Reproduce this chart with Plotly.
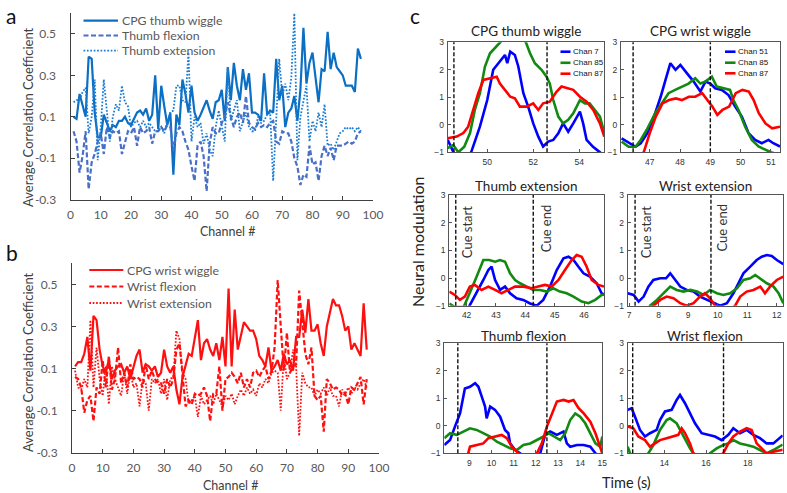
import plotly.graph_objects as go

W, H = 787, 493

# ---------------- Panel a / b data ----------------
channels = list(range(1, 97))

thumb_cpg = [0.10, 0.09, 0.21, 0.15, 0.10, 0.39, 0.38, 0.12, 0.00, 0.00,
             0.11, 0.07, 0.03, 0.06, 0.05, 0.08, 0.08, 0.10, 0.07, 0.06,
             0.09, 0.12, 0.13, 0.11, 0.14, 0.08, 0.11, 0.30, 0.04, 0.25,
             0.15, 0.06, 0.12, -0.18, 0.11, 0.06, 0.28, 0.21, 0.12, 0.25,
             0.12, 0.08, 0.11, 0.15, 0.18, 0.13, 0.09, 0.17, 0.18, 0.23,
             0.08, 0.34, 0.18, 0.36, 0.25, 0.18, 0.33, 0.23, 0.31, 0.12,
             0.12, 0.11, 0.08, 0.31, 0.11, 0.13, 0.12, 0.38, 0.18, 0.25,
             0.05, 0.12, 0.14, 0.20, 0.08, 0.23, 0.53, 0.26, 0.36, 0.41,
             0.29, 0.17, 0.33, 0.32, 0.51, 0.33, 0.41, 0.34, 0.32, 0.30,
             0.25, 0.25, 0.25, 0.22, 0.43, 0.38]
thumb_flex = [0.03, -0.02, -0.17, -0.09, 0.03, -0.25, -0.12, -0.08, -0.02, 0.02,
              -0.08, 0.05, 0.00, 0.03, 0.02, 0.03, -0.08, -0.03, 0.03, 0.02,
              0.05, -0.04, 0.05, 0.02, 0.03, 0.05, -0.03, 0.03, 0.03, 0.05,
              0.03, 0.06, 0.05, -0.06, 0.02, 0.05, 0.03, -0.02, -0.06, -0.14,
              -0.21, -0.04, -0.02, -0.09, -0.26, -0.03, 0.05, 0.02, 0.02, 0.07,
              0.10, 0.17, 0.10, 0.05, 0.10, 0.12, 0.07, 0.20, 0.07, 0.05,
              0.04, 0.07, 0.05, 0.06, 0.05, 0.07, 0.08, -0.02, -0.03, 0.03,
              0.02, 0.02, -0.02, -0.10, -0.14, -0.23, -0.18, -0.19, -0.04, -0.13,
              -0.12, -0.21, -0.09, -0.04, -0.09, -0.05, -0.11, -0.04, -0.04, -0.04,
              -0.03, -0.02, -0.03, -0.02, 0.02, 0.03]
thumb_ext = [0.17, 0.18, 0.18, 0.22, 0.24, 0.02, 0.10, 0.28, -0.11, 0.05,
             0.28, 0.13, -0.02, 0.10, 0.16, 0.13, 0.25, 0.17, 0.15, 0.05,
             0.07, 0.08, 0.05, 0.08, 0.05, 0.07, 0.05, 0.03, 0.03, 0.05,
             0.02, 0.08, 0.12, 0.13, 0.25, 0.25, 0.18, 0.17, 0.41, -0.02,
             0.10, 0.05, 0.07, -0.03, 0.02, -0.06, -0.09, 0.05, 0.13, 0.05,
             -0.02, 0.34, 0.08, 0.13, 0.18, 0.03, 0.07, 0.12, 0.05, 0.03,
             0.03, 0.10, 0.07, 0.08, 0.11, 0.12, -0.21, 0.07, 0.38, 0.20,
             0.26, 0.18, 0.29, 0.60, -0.11, 0.10, 0.18, 0.25, -0.02, 0.08,
             0.03, 0.12, 0.05, 0.16, -0.04, -0.03, -0.06, -0.02, 0.02, 0.03,
             0.05, 0.04, 0.05, 0.03, 0.05, 0.03]

wrist_cpg = [0.11, 0.13, 0.13, 0.17, 0.25, 0.09, 0.35, 0.33, 0.19, 0.11,
             0.08, 0.14, 0.05, 0.09, 0.11, 0.12, 0.08, 0.11, 0.05, 0.11,
             0.16, 0.19, 0.08, 0.12, 0.11, 0.09, 0.11, 0.06, 0.08, 0.19,
             0.11, 0.08, 0.11, 0.00, -0.07, 0.06, 0.11, 0.17, 0.16, 0.24,
             0.33, 0.14, 0.22, 0.24, 0.19, 0.16, 0.22, 0.14, 0.25, 0.11,
             0.48, 0.11, 0.38, 0.19, 0.25, 0.32, 0.30, 0.28, 0.28, 0.24,
             0.16, 0.14, 0.11, 0.20, 0.09, 0.11, 0.14, 0.09, 0.17, 0.12,
             0.14, 0.09, 0.25, 0.25, 0.38, 0.27, 0.43, 0.28, 0.28, 0.31,
             0.22, 0.16, 0.30, 0.36, 0.43, 0.40, 0.40, 0.35, 0.28, 0.30,
             0.19, 0.22, 0.19, 0.16, 0.41, 0.19]
wrist_flex = [0.06, 0.05, 0.01, -0.11, -0.05, -0.03, -0.15, 0.01, -0.02, 0.14,
              0.01, 0.16, 0.00, 0.05, 0.20, 0.03, 0.08, 0.01, 0.12, 0.05,
              0.06, 0.05, 0.01, 0.12, 0.05, 0.09, 0.05, 0.03, 0.03, -0.02,
              0.05, 0.01, 0.05, 0.19, 0.22, 0.05, -0.08, -0.05, -0.07, -0.02,
              -0.03, -0.02, 0.01, -0.03, -0.15, -0.02, -0.02, 0.11, -0.10, 0.05,
              0.06, 0.08, 0.06, 0.03, 0.08, 0.01, 0.05, 0.01, 0.08, 0.09,
              0.06, 0.09, 0.11, 0.05, 0.09, 0.20, 0.52, 0.30, 0.09, 0.27,
              0.08, 0.11, 0.12, 0.47, 0.33, 0.17, 0.12, 0.20, -0.03, -0.05,
              -0.03, -0.20, 0.05, 0.03, 0.00, 0.01, 0.00, -0.03, -0.02, -0.07,
              0.01, 0.00, 0.03, 0.06, -0.07, 0.05]
wrist_ext = [0.09, 0.01, 0.00, 0.05, 0.01, 0.33, 0.01, 0.20, 0.05, -0.03,
             0.11, -0.07, 0.11, 0.05, 0.01, -0.03, 0.08, -0.02, 0.09, 0.01,
             0.03, -0.08, 0.05, 0.03, -0.10, 0.05, 0.03, 0.05, -0.02, 0.05,
             -0.05, 0.05, 0.06, 0.28, 0.24, 0.08, 0.05, -0.07, -0.05, -0.03,
             -0.13, -0.03, -0.07, -0.05, -0.03, -0.07, -0.02, -0.05, -0.08, -0.03,
             -0.05, -0.02, -0.07, -0.03, 0.00, -0.03, 0.01, -0.02, 0.00, -0.03,
             0.03, 0.01, 0.05, 0.03, 0.08, 0.09, 0.08, -0.10, 0.16, 0.05,
             0.08, 0.19, 0.11, -0.22, 0.08, 0.03, 0.01, 0.01, -0.03, 0.00,
             -0.02, 0.01, -0.03, 0.01, -0.03, -0.03, -0.08, 0.00, -0.02, 0.01,
             -0.02, 0.01, 0.00, 0.03, 0.05, 0.01]

names_a = ["CPG thumb wiggle", "Thumb flexion", "Thumb extension"]
names_b = ["CPG wrist wiggle", "Wrist flexion", "Wrist extension"]
corr_ticks = [-0.3, -0.1, 0.1, 0.3, 0.5]
corr_ticktext = ["-0.3", "-0.1", "0.1", "0.3", "0.5"]
chan_ticks = [0, 10, 20, 30, 40, 50, 60, 70, 80, 90, 100]

# ---------------- Panel c data ----------------
# CPG thumb wiggle
tw_t7 = [48.28, 48.45, 48.7, 49.0, 49.3, 49.68, 50.0, 50.26, 50.55, 50.77, 50.87, 51.0, 51.2, 51.35, 51.57, 51.78,
         52.0, 52.22, 52.43, 52.65, 52.87, 53.09, 53.3, 53.52, 53.74, 54.03, 54.17, 54.32, 54.6, 54.9, 55.1]
tw_c7 = [-0.55, -0.9, -1.3, -1.4, -1.0, -0.07, 0.9, 2.0, 2.3, 2.54, 2.24, 2.66, 2.54, 2.12, 1.15, 0.66,
         0.05, -0.43, -0.79, -0.61, -0.55, -0.31, 0.05, -0.25, 0.05, 0.48, 0.05, -0.55, -0.8, -1.0, -1.2]
tw_t85 = [48.28, 48.52, 48.74, 49.0, 49.25, 49.46, 49.68, 49.9, 50.12, 50.41, 50.62, 50.9, 51.3, 51.68, 51.86,
          52.07, 52.36, 52.58, 52.72, 52.87, 53.09, 53.3, 53.52, 53.74, 54.03, 54.25, 54.45, 54.68, 54.9, 55.09]
tw_c85 = [-0.85, -0.73, -1.0, -0.8, -0.3, 0.54, 1.15, 2.12, 2.6, 2.84, 3.05, 3.4, 3.4, 3.0, 2.6,
          2.24, 2.0, 1.75, 1.5, 0.9, 0.3, 0.05, 0.18, 0.42, 0.9, 0.78, 0.78, 0.54, 0.3, -0.3]
tw_t87 = [48.28, 48.67, 48.96, 49.17, 49.39, 49.61, 49.83, 50.12, 50.41, 50.55, 50.77, 51.0, 51.2, 51.42,
          51.71, 52.0, 52.22, 52.43, 52.72, 53.01, 53.23, 53.45, 53.74, 54.03, 54.32, 54.61, 54.9, 55.09]
tw_c87 = [-0.49, -0.43, -0.3, -0.07, 0.54, 1.15, 1.63, 1.7, 1.75, 1.5, 1.27, 1.02, 0.96, 0.66,
          0.66, 0.78, 0.54, 0.78, 0.84, 1.2, 1.39, 1.33, 1.27, 1.02, 0.84, 0.54, 0.05, -0.43]

# CPG wrist wiggle
ww_t51 = [46.07, 46.36, 46.53, 46.7, 46.92, 47.14, 47.36, 47.52, 47.68, 47.85, 48.01, 48.23, 48.45, 48.67,
          48.84, 49.0, 49.16, 49.38, 49.6, 49.82, 50.04, 50.26, 50.48, 50.7, 50.92, 51.08, 51.3]
ww_c51 = [-0.49, -0.67, -0.8, -0.67, -0.3, 0.3, 1.02, 1.63, 2.24, 2.0, 2.18, 1.87, 1.57, 1.21,
          1.57, 1.5, 1.33, 1.27, 1.08, 0.66, 0.3, -0.3, -0.55, -0.67, -0.55, -0.67, -0.79]
ww_t85 = [46.07, 46.3, 46.53, 46.7, 46.9, 47.18, 47.4, 47.62, 47.84, 48.06, 48.28, 48.5, 48.67, 48.83,
          49.05, 49.21, 49.43, 49.65, 49.76, 49.93, 50.15, 50.37, 50.59, 50.81, 51.0, 51.3]
ww_c85 = [-0.61, -0.8, -0.8, -0.55, -0.18, 0.42, 0.78, 1.15, 1.27, 1.39, 1.5, 1.69, 1.5, 1.57,
          1.75, 1.39, 1.33, 1.27, 0.9, 0.54, -0.07, -0.55, -0.79, -0.91, -1.0, -1.1]
ww_t87 = [46.7, 46.8, 47.0, 47.2, 47.42, 47.64, 47.86, 48.06, 48.29, 48.5, 48.73, 48.9, 49.07, 49.23, 49.4,
          49.62, 49.84, 50.06, 50.27, 50.43, 50.6, 50.82, 51.04, 51.3]
ww_c87 = [-1.3, -1.0, -0.3, 0.3, 0.78, 0.9, 0.96, 0.9, 1.02, 1.02, 1.15, 0.9, 0.66, 0.36, 0.54,
          0.66, 1.15, 1.27, 1.21, 0.9, 0.42, 0.05, -0.13, -0.07]

# Thumb extension
te_tb = [41.41, 42.0, 42.1, 42.34, 42.57, 42.74, 42.85, 42.97, 43.14, 43.31, 43.48, 43.7, 43.93, 44.16, 44.39,
         44.61, 44.84, 45.07, 45.3, 45.47, 45.64, 45.81, 45.98, 46.2, 46.43, 46.6, 46.68]
te_b = [-1.3, -1.2, -1.0, -0.55, -0.07, 0.29, 0.41, -0.07, -0.43, -0.31, -0.55, -0.73, -0.79, -0.92, -1.0,
        -0.79, -0.31, 0.29, 0.71, 0.77, 0.65, 0.41, 0.17, 0.05, -0.19, -0.55, -0.6]
te_tg = [41.41, 41.6, 41.9, 42.11, 42.34, 42.57, 42.77, 42.97, 43.14, 43.31, 43.48, 43.65, 43.82, 44.05, 44.27,
         44.5, 44.73, 44.95, 45.18, 45.41, 45.64, 45.92, 46.15, 46.38, 46.6, 46.68]
te_g = [-0.92, -1.05, -1.05, -0.55, 0.05, 0.65, 0.65, 0.59, 0.65, 0.59, 0.17, -0.07, -0.19, -0.31, -0.43,
        -0.43, -0.49, -0.37, -0.49, -0.55, -0.67, -0.85, -0.91, -0.79, -0.61, -0.6]
te_tr = [41.41, 41.6, 41.77, 41.94, 42.11, 42.28, 42.51, 42.74, 42.97, 43.19, 43.42, 43.65, 43.93, 44.22, 44.44,
         44.67, 44.9, 45.13, 45.35, 45.58, 45.75, 45.92, 46.09, 46.26, 46.49, 46.68]
te_r = [-0.49, -0.61, -0.79, -0.67, -0.31, -0.25, -0.43, -0.31, -0.43, -0.55, -0.43, -0.31, -0.31, -0.37, -0.31,
        -0.25, -0.31, -0.07, 0.29, 0.65, 0.83, 0.77, 0.41, -0.07, -0.25, -0.31]

# Wrist extension
we_tb = [6.95, 7.15, 7.32, 7.49, 7.65, 7.82, 8.05, 8.25, 8.39, 8.56, 8.73, 8.95, 9.18, 9.4, 9.63, 9.86, 10.08,
         10.31, 10.53, 10.7, 10.87, 11.1, 11.32, 11.49, 11.66, 11.83, 12.0, 12.22]
we_b = [-0.55, -0.61, -0.85, -0.67, -0.31, -0.07, -0.01, -0.01, 0.17, -0.07, -0.31, -0.43, -0.49, -0.67, -0.79,
        -0.91, -1.0, -0.91, -0.55, -0.19, 0.17, 0.41, 0.65, 0.77, 0.83, 0.8, 0.65, 0.5]
we_tg = [7.6, 7.71, 7.94, 8.16, 8.39, 8.61, 8.84, 9.07, 9.3, 9.52, 9.74, 9.97, 10.19, 10.42, 10.65, 10.87, 11.1,
         11.27, 11.44, 11.66, 11.89, 12.06, 12.22]
we_g = [-1.2, -1.0, -0.79, -0.55, -0.31, -0.43, -0.49, -0.43, -0.49, -0.61, -0.43, -0.55, -0.61, -0.55, -0.37,
        -0.07, -0.01, 0.11, -0.01, -0.19, -0.31, -0.55, -0.91]
we_tr = [7.7, 7.82, 8.05, 8.27, 8.5, 8.73, 8.95, 9.18, 9.4, 9.57, 9.74, 9.91, 10.2, 10.59, 10.76, 10.98, 11.21,
         11.44, 11.6, 11.77, 12.0, 12.22]
we_r = [-1.2, -1.0, -0.79, -0.67, -0.73, -0.91, -1.0, -0.91, -0.67, -0.55, -0.73, -1.0, -1.3, -1.0, -0.67,
        -0.49, -0.43, -0.31, -0.55, -0.31, -0.07, 0.05]

# Thumb flexion
tf_tb = [7.87, 8.13, 8.35, 8.58, 8.8, 9.03, 9.26, 9.41, 9.56, 9.71, 9.78, 9.94, 10.16, 10.39, 10.61, 10.76, 10.84,
         11.07, 11.29, 11.8, 12.2, 12.42, 12.65, 12.95, 13.25, 13.4, 13.55, 13.86, 14.16, 14.46, 14.69, 15.0]
tf_b = [-0.7, -0.52, -0.03, 0.45, 1.36, 1.42, 1.55, 1.42, 1.06, 0.7, 0.27, 0.7, 0.58, 0.33, -0.15, -0.27, -0.64,
        -0.88, -1.0, -1.3, -1.0, -0.33, -0.21, -0.33, -0.21, -0.64, -0.76, -0.7, -0.7, -0.76, -1.0, -1.2]
tf_tg = [7.87, 8.13, 8.43, 8.73, 9.03, 9.33, 9.63, 9.94, 10.24, 10.54, 10.84, 11.14, 11.44, 11.75, 12.05, 12.35,
         12.57, 12.8, 13.1, 13.33, 13.55, 13.78, 14.0, 14.23, 14.46, 14.69, 14.91, 15.0]
tf_g = [-0.45, -0.27, -0.33, -0.21, -0.09, -0.15, -0.27, -0.39, -0.58, -0.7, -0.82, -0.88, -0.7, -0.64, -0.52,
        -0.39, -0.27, -0.39, -0.52, -0.27, 0.21, 0.45, 0.33, 0.09, -0.27, -0.64, -0.76, -0.39]
tf_tr = [8.9, 8.95, 9.03, 9.33, 9.63, 9.86, 10.16, 10.46, 10.69, 10.92, 11.14, 11.6, 12.05, 12.27, 12.5, 12.73,
         12.95, 13.25, 13.48, 13.7, 13.93, 14.16, 14.46, 14.69, 14.91, 15.0]
tf_r = [-1.3, -1.0, -0.76, -0.7, -0.64, -0.45, -0.39, -0.33, -0.45, -0.76, -0.94, -1.3, -1.0, -0.64, -0.03, 0.45,
        0.88, 0.94, 0.88, 0.94, 0.64, 0.45, 0.15, -0.27, -0.76, -1.0]

# Wrist flexion
wf_tb = [12.24, 12.43, 12.59, 12.83, 13.07, 13.31, 13.63, 13.79, 14.03, 14.35, 14.59, 14.75, 14.99, 15.23, 15.47,
         15.79, 16.11, 16.43, 16.75, 17.07, 17.31, 17.63, 17.95, 18.27, 18.59, 18.91, 19.23, 19.63, 19.68]
wf_b = [0.58, 0.64, 0.33, -0.15, -0.39, -0.27, -0.15, 0.21, 0.52, 0.58, 0.94, 1.12, 0.82, 0.45, 0.09,
        -0.27, -0.33, -0.39, -0.52, -0.33, -0.09, -0.27, -0.15, -0.33, -0.45, -0.64, -0.64, -0.39, -0.35]
wf_tg = [12.24, 12.35, 12.8, 13.23, 13.47, 13.79, 14.11, 14.27, 14.59, 14.91, 15.23, 15.39, 15.8, 16.19, 16.51,
         16.83, 17.07, 17.31, 17.63, 17.95, 18.27, 18.59, 18.91, 19.23, 19.63, 19.68]
wf_g = [-0.76, -1.0, -1.3, -1.0, -0.7, -0.15, 0.21, 0.27, 0.09, -0.39, -0.82, -1.0, -1.3, -1.0, -0.82,
        -0.7, -0.64, -0.52, -0.64, -0.7, -0.76, -0.88, -1.0, -0.88, -0.7, -0.68]
wf_tr = [12.24, 12.51, 12.75, 13.07, 13.31, 13.55, 13.79, 14.11, 14.43, 14.67, 14.83, 14.99, 15.23, 15.39, 16.1,
         16.83, 17.07, 17.31, 17.63, 17.95, 18.19, 18.43, 18.67, 18.91, 19.23, 19.63, 19.68]
wf_r = [-0.03, -0.09, -0.39, -0.52, -0.76, -0.64, -0.52, -0.45, -0.39, -0.33, -0.09, -0.27, -0.64, -1.0, -1.3,
        -1.0, -0.64, -0.39, -0.21, -0.09, -0.15, -0.64, -0.82, -1.0, -0.94, -0.88, -0.87]

# cue lines (start, end) for each panel c subplot
cue_tw = [48.55, 52.6]
cue_ww = [46.45, 49.0]
cue_te = [41.63, 44.27]
cue_we = [7.2, 9.77]
cue_tf = [8.48, 12.5]
cue_wf = [12.48, 16.84]

c_titles = ["CPG thumb wiggle", "CPG wrist wiggle", "Thumb extension",
            "Wrist extension", "Thumb flexion", "Wrist flexion"]
chan_names_tw = ["Chan 7", "Chan 85", "Chan 87"]
chan_names_ww = ["Chan 51", "Chan 85", "Chan 87"]
c_ranges = [[48.28, 55.09], [46.05, 51.3], [41.41, 46.68], [6.95, 12.22], [7.87, 15.0], [12.24, 19.68]]
c_xticks = [[50, 52, 54], [46, 47, 48, 49, 50, 51], [42, 43, 44, 45, 46],
            [7, 8, 9, 10, 11, 12], [9, 10, 11, 12, 13, 14, 15], [14, 16, 18]]
mod_ticks = [-1, 0, 1, 2, 3]

# ---------------- helpers / styles ----------------
def dx(p):
    return p / W

def dy(p):
    return 1 - p / H

CAL = "Lato, Carlito, Calibri, sans-serif"
ARIAL = "Liberation Sans, Arial, sans-serif"
styles_a = [dict(color="#0B6FC4", width=2.2),
            dict(color="#4A6FC6", width=2.2, dash="5px,2.5px"),
            dict(color="#1C7BD2", width=1.8, dash="1.7px,1.7px")]
styles_b = [dict(color="#FF1010", width=2.2),
            dict(color="#FF1010", width=2.2, dash="5px,2.5px"),
            dict(color="#FF1010", width=1.8, dash="1.7px,1.7px")]
CB, CG, CR = "#0000FF", "#128A12", "#FF0000"
c_colors = [CB, CG, CR]

fig = go.Figure()

for ys, nm, st in zip([thumb_cpg, thumb_flex, thumb_ext], names_a, styles_a):
    fig.add_trace(go.Scatter(x=channels, y=ys, mode="lines", name=nm, line=st,
                             xaxis="x", yaxis="y", showlegend=False))
for ys, nm, st in zip([wrist_cpg, wrist_flex, wrist_ext], names_b, styles_b):
    fig.add_trace(go.Scatter(x=channels, y=ys, mode="lines", name=nm, line=st,
                             xaxis="x2", yaxis="y2", showlegend=False))

c_series = [
    [(tw_t7, tw_c7), (tw_t85, tw_c85), (tw_t87, tw_c87)],
    [(ww_t51, ww_c51), (ww_t85, ww_c85), (ww_t87, ww_c87)],
    [(te_tb, te_b), (te_tg, te_g), (te_tr, te_r)],
    [(we_tb, we_b), (we_tg, we_g), (we_tr, we_r)],
    [(tf_tb, tf_b), (tf_tg, tf_g), (tf_tr, tf_r)],
    [(wf_tb, wf_b), (wf_tg, wf_g), (wf_tr, wf_r)],
]
c_names = [chan_names_tw, chan_names_ww] + [["blue", "green", "red"]] * 4
cues = [cue_tw, cue_ww, cue_te, cue_we, cue_tf, cue_wf]
for i, group in enumerate(c_series):
    k = i + 3
    for j, (tx, ty) in enumerate(group):
        fig.add_trace(go.Scatter(x=tx, y=ty, mode="lines", name=c_names[i][j], showlegend=False,
                                 line=dict(color=c_colors[j], width=2.6),
                                 xaxis=f"x{k}", yaxis=f"y{k}"))

# ---------------- layout ----------------
layout = dict(width=W, height=H, margin=dict(l=0, r=0, t=0, b=0, autoexpand=False),
              paper_bgcolor="white", plot_bgcolor="white", showlegend=False)

ab_axis = dict(showgrid=False, zeroline=False, showline=True, linecolor="#404040", linewidth=1,
               ticks="inside", ticklen=4, tickcolor="#404040", automargin=False,
               tickfont=dict(family=CAL, size=12, color="#595959"))
layout["xaxis"] = dict(ab_axis, domain=[dx(70.5), dx(373)], anchor="y", range=[0, 100],
                       tickvals=chan_ticks, ticklabelstandoff=4)
layout["yaxis"] = dict(ab_axis, domain=[dy(199.5), dy(13.3)], anchor="x", range=[-0.3, 0.6],
                       tickvals=corr_ticks, ticktext=corr_ticktext, ticklabelstandoff=11)
layout["xaxis2"] = dict(ab_axis, domain=[dx(72), dx(379)], anchor="y2", range=[0, 100],
                        tickvals=chan_ticks, ticklabelstandoff=4)
layout["yaxis2"] = dict(ab_axis, domain=[dy(452.7), dy(263.3)], anchor="x2", range=[-0.3, 0.6],
                        tickvals=corr_ticks, ticktext=corr_ticktext, ticklabelstandoff=11)

c_boxes = [(447.7, 604.3, 42.3, 152.3), (621, 780, 42.3, 152.3),
           (449.3, 604, 195, 305.7), (627.7, 783.3, 195, 305.7),
           (444.3, 602.3, 343.3, 453.3), (627.7, 782.7, 343.3, 453.3)]
title_y = [31, 31, 185.5, 185.5, 336, 336]
c_axis = dict(showgrid=False, zeroline=False, showline=True, mirror=True, linecolor="#555555",
              linewidth=1, ticks="inside", ticklen=3, tickcolor="#555555", automargin=False,
              tickfont=dict(family=ARIAL, size=8.5, color="#333333"))
shapes = []
annotations = []
for i, (x0, x1, y0, y1) in enumerate(c_boxes):
    k = i + 3
    layout[f"xaxis{k}"] = dict(c_axis, domain=[dx(x0), dx(x1)], anchor=f"y{k}", range=c_ranges[i],
                               tickvals=c_xticks[i], ticklabelstandoff=1)
    layout[f"yaxis{k}"] = dict(c_axis, domain=[dy(y1), dy(y0)], anchor=f"x{k}", range=[-1, 3],
                               tickvals=mod_ticks, ticklabelstandoff=1)
    for cx in cues[i]:
        shapes.append(dict(type="line", xref=f"x{k}", yref=f"y{k} domain", x0=cx, x1=cx, y0=0, y1=1,
                           line=dict(color="#111111", width=1.4, dash="4px,2px")))
    annotations.append(dict(text=c_titles[i], x=dx((x0 + x1) / 2), y=dy(title_y[i]), xref="paper",
                            yref="paper", showarrow=False, xanchor="center", yanchor="middle",
                            font=dict(family=CAL, size=13.5, color="#222222")))

# ---- legends (drawn as layout decorations) ----
def add_legend(names, styles, line_x0, line_x1, text_x, rows, font, box=None):
    if box is not None:
        bx0, bx1, by0, by1 = box
        shapes.append(dict(type="rect", xref="paper", yref="paper", x0=dx(bx0), x1=dx(bx1),
                           y0=dy(by1), y1=dy(by0), fillcolor="white", line=dict(width=0)))
    for nm, st, ry in zip(names, styles, rows):
        shapes.append(dict(type="line", xref="paper", yref="paper", x0=dx(line_x0), x1=dx(line_x1),
                           y0=dy(ry), y1=dy(ry), line=st))
        annotations.append(dict(text=nm, x=dx(text_x), y=dy(ry), xref="paper", yref="paper",
                                showarrow=False, xanchor="left", yanchor="middle", font=font))

leg_font_ab = dict(family=CAL, size=12.3, color="#595959")
add_legend(names_a, styles_a, 83.5, 118, 120, [20.7, 35.5, 50.7], leg_font_ab)
add_legend(names_b, styles_b, 89.3, 123.3, 125, [270, 286.5, 303], leg_font_ab)
leg_font_c = dict(family=ARIAL, size=8, color="#111111")
c_leg_styles = [dict(color=c, width=2.6) for c in c_colors]
add_legend(chan_names_tw, c_leg_styles, 560.5, 570.5, 571, [51.7, 62.8, 73.7], leg_font_c,
           box=(557, 603.5, 44, 80))
add_legend(chan_names_ww, c_leg_styles, 725, 735.5, 736, [51.7, 62.7, 73.3], leg_font_c,
           box=(721, 779.5, 44, 80))

# cue labels in extension panels
for xpx, txt in [(466.7, "Cue start"), (545.7, "Cue end"), (645.7, "Cue start"), (721, "Cue end")]:
    annotations.append(dict(text=txt, x=dx(xpx), y=dy(203), xref="paper", yref="paper", showarrow=False,
                            textangle=-90, xanchor="center", yanchor="top",
                            font=dict(family=CAL, size=13, color="#333333")))

# axis titles
for ypx in [117, 362]:
    annotations.append(dict(text="Average Correlation Coefficient", x=dx(28), y=dy(ypx), xref="paper",
                            yref="paper", showarrow=False, textangle=-90, xanchor="center", yanchor="middle",
                            font=dict(family=CAL, size=13, color="#404040")))
for xpx, ypx in [(228, 231), (231, 485)]:
    annotations.append(dict(text="Channel #", x=dx(xpx), y=dy(ypx), xref="paper", yref="paper",
                            showarrow=False, xanchor="center", yanchor="middle",
                            font=dict(family=CAL, size=12.5, color="#404040")))
annotations.append(dict(text="Neural modulation", x=dx(417), y=dy(242), xref="paper", yref="paper",
                        showarrow=False, textangle=-90, xanchor="center", yanchor="middle",
                        font=dict(family=CAL, size=16, color="#222222")))
annotations.append(dict(text="Time (s)", x=dx(626), y=dy(482), xref="paper", yref="paper",
                        showarrow=False, xanchor="center", yanchor="middle",
                        font=dict(family=CAL, size=14.5, color="#222222")))
# panel letters
for txt, xp, yp in [("a", 11, 0.5), ("b", 12, 238), ("c", 415, 0.5)]:
    annotations.append(dict(text=txt, x=dx(xp), y=dy(yp), xref="paper", yref="paper", showarrow=False,
                            xanchor="center", yanchor="top",
                            font=dict(family=CAL, size=21, color="#111111")))

layout["shapes"] = shapes
layout["annotations"] = annotations

fig.update_layout(**layout)
fig.write_html("out.html", config={"displayModeBar": False},
               post_script="document.body.style.margin='0px';document.body.style.overflow='hidden';")
